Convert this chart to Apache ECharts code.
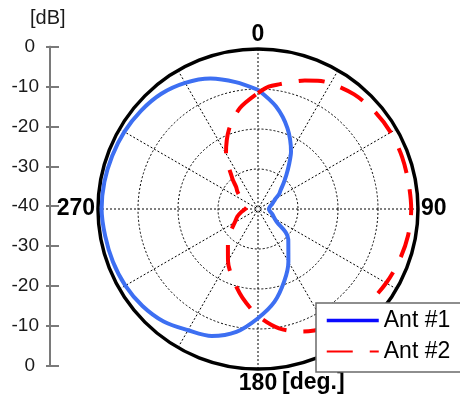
<!DOCTYPE html>
<html><head><meta charset="utf-8">
<script src="https://cdn.jsdelivr.net/npm/echarts@6/dist/echarts.min.js"></script>
<style>html,body{margin:0;padding:0;background:#fff}#c{width:460px;height:401px}</style>
</head><body><div id="c"></div>
<script>
// ---- data ----
const seriesNames = ['Ant #1', 'Ant #2'];
const ant1Angles = [0,10,20,30,35,40,45,50,55,60,70,80,90,100,110,120,125,130,135,140,150,160,170,180,190,200,210,220,230,240,250,260,270,280,290,300,310,320,330,340,350,360];
const ant1Db = [-10.2,-14,-18.5,-23.5,-26.5,-29,-31,-32.6,-33.6,-35,-36.2,-37,-37.3,-37,-36.2,-35.2,-34.2,-31,-29.3,-28.2,-24.8,-20.8,-16.4,-12.7,-8.8,-6.2,-5.0,-3.3,-2.3,-1.7,-1.4,-1.2,-0.9,-1.0,-1.2,-1.4,-1.8,-2.4,-3.6,-5.3,-7.8,-10.2];
const ant2Angles = [0,5,10,15,20,25,30,40,50,60,70,80,90,100,110,120,130,140,150,160,170,180,190,200,210,220,230,240,250,260,270,280,285,290,300,310,315,320,330,340,350,360];
const ant2Db = [-11,-9.3,-8.3,-7.1,-5.8,-4.6,-3.7,-2.6,-2.0,-1.7,-1.7,-1.8,-1.7,-1.9,-2.4,-3.0,-3.7,-4.6,-5.8,-7.4,-9.7,-13.3,-17.5,-21.5,-25,-28.3,-31,-33.3,-34.5,-35.8,-36.8,-37.2,-37.3,-36.8,-35.3,-33.3,-32.3,-30,-24,-18.8,-14.3,-11];
const leftTickLabels = ['0','-10','-20','-30','-40','-30','-20','-10','0']; // top to bottom
const angleTickValues = [0, 90, 180, 270];
const angleTickLabels = ['0', '90', '180', '270'];
const unitDb = '[dB]';
const unitDeg = '[deg.]';

const FONT = 'Liberation Sans, Arial, sans-serif';
const chart = echarts.init(document.getElementById('c'), null, {renderer: 'canvas'});

function pairs(angles, vals) { return angles.map((a, i) => [vals[i], a]); }

const leftLabelFmt = v => {
  const idx = Math.round((40 - v) / 10);
  const t = leftTickLabels[idx];
  return t === '0' ? '{z|' + t + '}' : t;
};

chart.setOption({
  backgroundColor: '#ffffff',
  animation: false,
  textStyle: {fontFamily: FONT},
  polar: {center: [258, 209], radius: 160},
  angleAxis: {
    type: 'value', min: 0, max: 360, interval: 30, startAngle: 90, clockwise: true,
    axisLine: {lineStyle: {color: '#000', width: 3.5}},
    axisTick: {show: false},
    splitLine: {lineStyle: {color: '#000', width: 1, type: [2, 2]}},
    axisLabel: {
      margin: 3, color: '#000', fontWeight: 'bold', fontSize: 23, fontFamily: FONT,
      formatter: v => { const i = angleTickValues.indexOf(v); return i >= 0 ? angleTickLabels[i] : ''; }
    }
  },
  radiusAxis: {
    type: 'value', min: -40, max: 0, interval: 10,
    axisLine: {show: false}, axisTick: {show: false}, axisLabel: {show: false},
    splitLine: {lineStyle: {color: '#000', width: 1, type: [2, 2]}}
  },
  grid: {left: 50, top: 46.7, width: 1, height: 319},
  xAxis: {type: 'value', show: false},
  yAxis: [{
    type: 'value', min: -40, max: 40, interval: 10, position: 'left',
    axisLine: {show: true, lineStyle: {color: '#7a7a7a', width: 2}},
    axisTick: {show: true, inside: true, length: 9, lineStyle: {color: '#7a7a7a', width: 2}},
    axisLabel: {show: false}, splitLine: {show: false}
  }, {
    type: 'value', min: -40, max: 40, interval: 10, position: 'left', offset: 0,
    axisLine: {show: true, lineStyle: {color: '#7a7a7a', width: 2}},
    axisTick: {show: true, inside: false, length: 4, lineStyle: {color: '#7a7a7a', width: 2}},
    axisLabel: {show: true, margin: 11, color: '#1a1a1a', fontSize: 19, fontFamily: FONT,
      formatter: leftLabelFmt, rich: {z: {fontSize: 19, fontFamily: FONT, color: '#1a1a1a', padding: [0, 4, 0, 0]}}},
    splitLine: {show: false}
  }],
  legend: {
    orient: 'vertical', left: 316, top: 303,
    backgroundColor: '#fff', borderColor: '#6a6a6a', borderWidth: 1.5, borderRadius: 0,
    padding: [6, 30, 9, 9], itemWidth: 52, itemHeight: 14, itemGap: 8,
    textStyle: {fontSize: 23, lineHeight: 23, color: '#000', fontFamily: FONT},
    itemStyle: {opacity: 0},
    data: [
      {name: seriesNames[0], lineStyle: {color: '#0a0aff', width: 3.5}, itemStyle: {opacity: 0}},
      {name: seriesNames[1], itemStyle: {opacity: 0}}
    ]
  },
  graphic: [
    {type: 'text', left: 30, top: 8, style: {text: unitDb, font: '20px ' + FONT, fill: '#1a1a1a'}},
    {type: 'text', left: 282, top: 371, style: {text: unitDeg, font: 'bold 23px ' + FONT, fill: '#000'}}
  ],
  series: [{
    name: seriesNames[0], type: 'line', coordinateSystem: 'polar', symbol: 'none', smooth: 0.3,
    lineStyle: {color: '#3d6ff2', width: 4}, itemStyle: {color: '#3d6ff2'},
    data: pairs(ant1Angles, ant1Db)
  }, {
    name: seriesNames[1], type: 'line', coordinateSystem: 'polar', symbol: 'none', smooth: 0.3,
    lineStyle: {color: '#ff0000', width: 4, type: [26, 17]}, itemStyle: {color: '#ff0000'},
    data: pairs(ant2Angles, ant2Db)
  }]
});
</script></body></html>
